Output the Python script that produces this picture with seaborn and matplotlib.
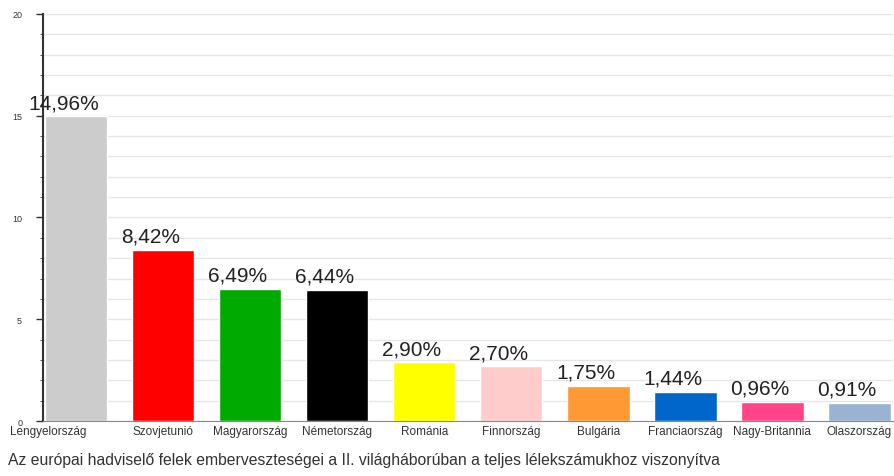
import matplotlib
matplotlib.use('Agg')
import matplotlib.pyplot as plt
import matplotlib.transforms as mtransforms
import seaborn as sns
import pandas as pd
from matplotlib.ticker import MultipleLocator

# %%Data

countries = ['Lengyelország', 'Szovjetunió', 'Magyarország', 'Németország', 'Románia',
             'Finnország', 'Bulgária', 'Franciaország', 'Nagy-Britannia', 'Olaszország']
losses = [14.96, 8.42, 6.49, 6.44, 2.90, 2.70, 1.75, 1.44, 0.96, 0.91]
colors = ['#cccccc', '#ff0000', '#00aa00', '#000000', '#ffff00',
          '#ffcccc', '#ff9933', '#0066cc', '#ff4488', '#99b3d1']
caption = 'Az európai hadviselő felek emberveszteségei a II. világháborúban a teljes lélekszámukhoz viszonyítva'

df = pd.DataFrame({'Country': countries, 'Loss': losses})

# %%Plot

sns.set_style('white')
plt.rcParams['font.family'] = ['Liberation Sans', 'DejaVu Sans']

fig = plt.figure(figsize=(8.95, 4.77), dpi=100)
ax = fig.add_axes([0.048, 0.115, 0.95, 0.854])

sns.barplot(data=df, x='Country', y='Loss', hue='Country', palette=colors,
            legend=False, width=0.72, saturation=1, ax=ax)

for i, v in enumerate(losses):
    ax.text(i - 0.14, v + 0.2, f'{v:.2f}%'.replace('.', ','), ha='center', va='bottom',
            fontsize=15, color='#222222')

ax.set_xlim(-0.38, 9.39)
ax.set_ylim(0, 20)
ax.yaxis.set_major_locator(MultipleLocator(5))
ax.yaxis.set_minor_locator(MultipleLocator(1))
ax.grid(axis='y', which='both', color='#e6e6e6', lw=1)
ax.set_axisbelow(True)

ax.set_xlabel('')
ax.set_ylabel('')
ax.tick_params(axis='x', labelsize=8.5, labelcolor='#333333', length=0, pad=3)
ax.tick_params(axis='y', which='major', labelsize=6.5, labelcolor='#333333', length=5,
               width=1, color='#333333', left=True, pad=10)
ax.tick_params(axis='y', which='minor', length=2.5, color='#333333', left=True)

# first category label sits further left in the original
lbl = ax.get_xticklabels()[0]
lbl.set_transform(lbl.get_transform() + mtransforms.ScaledTranslation(-0.28, 0, fig.dpi_scale_trans))

for s in ['top', 'right']:
    ax.spines[s].set_visible(False)
ax.spines['left'].set_color('#333333')
ax.spines['left'].set_linewidth(1.5)
ax.spines['bottom'].set_color('#888888')

fig.text(0.009, 0.025, caption, fontsize=11.3, color='#333333')

plt.savefig('out.png', dpi=100)
